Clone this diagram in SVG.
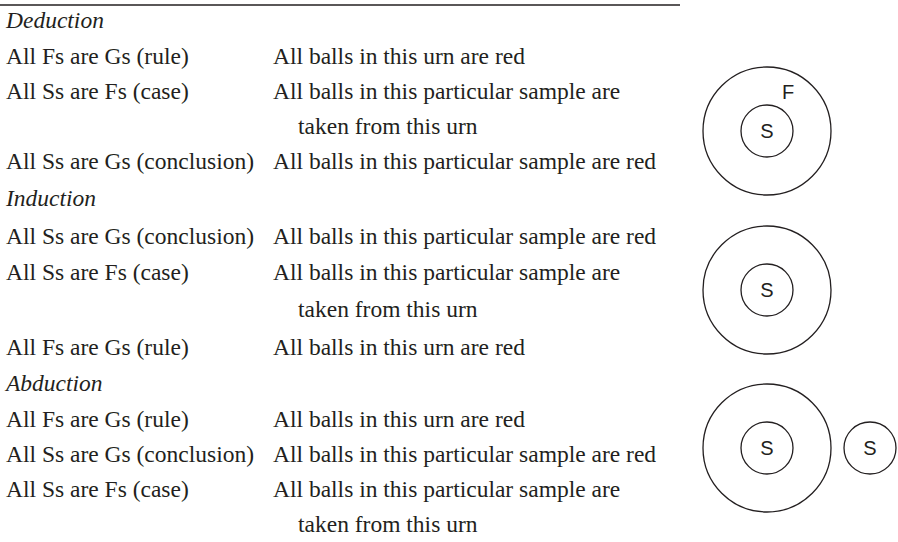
<svg xmlns="http://www.w3.org/2000/svg" width="898" height="542" viewBox="0 0 898 542">
<style>
  text { font-family: "Liberation Serif", "Times New Roman", serif; font-size: 23.5px; fill: #231f20; }
  .h { font-style: italic; }
  .lbl { font-family: "Liberation Sans", Arial, sans-serif; font-size: 20px; text-anchor: middle; fill: #231f20; }
  circle { fill: none; stroke: #231f20; stroke-width: 1.3; }
</style>
<rect width="898" height="542" fill="#ffffff"/>
<line x1="0" y1="5" x2="680" y2="5" stroke="#231f20" stroke-width="1.6"/>

<g id="deduction">
  <text class="h" x="6" y="28">Deduction</text>
  <text x="6" y="64">All Fs are Gs (rule)</text>
  <text x="273" y="64">All balls in this urn are red</text>
  <text x="6" y="99">All Ss are Fs (case)</text>
  <text x="273" y="99">All balls in this particular sample are</text>
  <text x="298" y="134">taken from this urn</text>
  <text x="6" y="169">All Ss are Gs (conclusion)</text>
  <text x="273" y="169">All balls in this particular sample are red</text>
</g>

<g id="induction">
  <text class="h" x="6" y="206">Induction</text>
  <text x="6" y="244">All Ss are Gs (conclusion)</text>
  <text x="273" y="244">All balls in this particular sample are red</text>
  <text x="6" y="280">All Ss are Fs (case)</text>
  <text x="273" y="280">All balls in this particular sample are</text>
  <text x="298" y="317">taken from this urn</text>
  <text x="6" y="355">All Fs are Gs (rule)</text>
  <text x="273" y="355">All balls in this urn are red</text>
</g>

<g id="abduction">
  <text class="h" x="6" y="391">Abduction</text>
  <text x="6" y="427">All Fs are Gs (rule)</text>
  <text x="273" y="427">All balls in this urn are red</text>
  <text x="6" y="462">All Ss are Gs (conclusion)</text>
  <text x="273" y="462">All balls in this particular sample are red</text>
  <text x="6" y="497">All Ss are Fs (case)</text>
  <text x="273" y="497">All balls in this particular sample are</text>
  <text x="298" y="532">taken from this urn</text>
</g>

<g id="deduction-diagram">
  <circle cx="767" cy="131" r="64"/>
  <circle cx="767" cy="131" r="26"/>
  <text class="lbl" x="788" y="99">F</text>
  <text class="lbl" x="767" y="138">S</text>
</g>

<g id="induction-diagram">
  <circle cx="767" cy="290" r="64"/>
  <circle cx="767" cy="290" r="26"/>
  <text class="lbl" x="767" y="297">S</text>
</g>

<g id="abduction-diagram">
  <circle cx="767" cy="448" r="64"/>
  <circle cx="767" cy="448" r="26"/>
  <text class="lbl" x="767" y="455">S</text>
  <circle cx="870" cy="448" r="26"/>
  <text class="lbl" x="870" y="455">S</text>
</g>

<g id="connectors"></g>
</svg>
